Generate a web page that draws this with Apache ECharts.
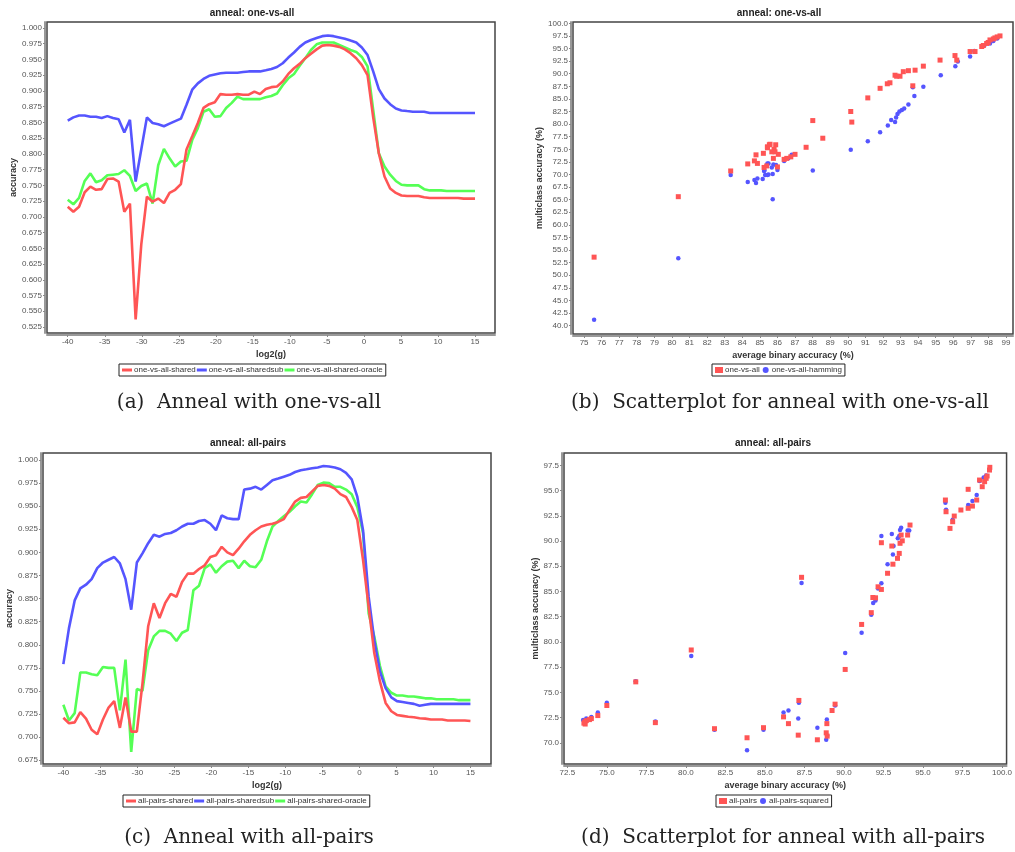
<!DOCTYPE html>
<html>
<head>
<meta charset="utf-8">
<title>anneal</title>
<script src="https://cdn.jsdelivr.net/npm/echarts@6/dist/echarts.min.js"></script>
<style>
  html, body { margin: 0; padding: 0; background: #fff; }
  #main { width: 1015px; height: 852px; }
</style>
</head>
<body>
<div id="main"></div>
<script>
// log2(g) values used by both line charts
const logG = [-40, -39.24, -38.47, -37.71, -36.94, -36.18, -35.42, -34.65, -33.89, -33.13, -32.36, -31.6, -30.83, -30.07, -29.31, -28.54, -27.78, -27.01, -26.25, -25.49, -24.72, -23.96, -23.19, -22.43, -21.67, -20.9, -20.14, -19.38, -18.61, -17.85, -17.08, -16.32, -15.56, -14.79, -14.03, -13.26, -12.5, -11.74, -10.97, -10.21, -9.44, -8.68, -7.92, -7.15, -6.39, -5.63, -4.86, -4.1, -3.33, -2.57, -1.81, -1.04, -0.28, 0.49, 1.25, 2.01, 2.78, 3.54, 4.31, 5.07, 5.83, 6.6, 7.36, 8.13, 8.89, 9.65, 10.42, 11.18, 11.94, 12.71, 13.47, 14.24, 15]

// (a) one-vs-all
const ovaShared = [0.716, 0.708, 0.716, 0.739, 0.748, 0.743, 0.744, 0.760, 0.761, 0.756, 0.708, 0.721, 0.537, 0.656, 0.732, 0.724, 0.729, 0.722, 0.738, 0.743, 0.752, 0.807, 0.828, 0.849, 0.873, 0.879, 0.882, 0.895, 0.894, 0.894, 0.895, 0.894, 0.894, 0.899, 0.895, 0.903, 0.906, 0.907, 0.915, 0.927, 0.936, 0.943, 0.952, 0.959, 0.966, 0.972, 0.973, 0.972, 0.970, 0.966, 0.960, 0.952, 0.941, 0.925, 0.858, 0.801, 0.764, 0.745, 0.738, 0.734, 0.733, 0.733, 0.733, 0.731, 0.730, 0.730, 0.730, 0.730, 0.730, 0.730, 0.729, 0.729, 0.729]
const ovaSharedsub = [0.853, 0.858, 0.861, 0.861, 0.859, 0.859, 0.857, 0.860, 0.857, 0.855, 0.834, 0.854, 0.756, 0.807, 0.858, 0.849, 0.847, 0.844, 0.848, 0.852, 0.856, 0.878, 0.902, 0.912, 0.919, 0.924, 0.926, 0.928, 0.929, 0.929, 0.929, 0.930, 0.931, 0.931, 0.931, 0.933, 0.935, 0.938, 0.944, 0.953, 0.961, 0.970, 0.977, 0.981, 0.984, 0.987, 0.988, 0.987, 0.985, 0.983, 0.980, 0.977, 0.969, 0.957, 0.931, 0.903, 0.888, 0.879, 0.872, 0.869, 0.868, 0.867, 0.867, 0.867, 0.865, 0.865, 0.865, 0.865, 0.865, 0.865, 0.865, 0.865, 0.865]
const ovaOracle = [0.727, 0.720, 0.730, 0.757, 0.769, 0.755, 0.758, 0.766, 0.767, 0.768, 0.774, 0.765, 0.741, 0.749, 0.753, 0.721, 0.782, 0.808, 0.793, 0.780, 0.788, 0.789, 0.822, 0.841, 0.867, 0.871, 0.859, 0.860, 0.873, 0.881, 0.891, 0.887, 0.887, 0.887, 0.887, 0.890, 0.892, 0.896, 0.909, 0.920, 0.927, 0.940, 0.952, 0.965, 0.974, 0.977, 0.977, 0.977, 0.973, 0.969, 0.965, 0.962, 0.954, 0.939, 0.870, 0.801, 0.780, 0.767, 0.757, 0.751, 0.750, 0.750, 0.750, 0.744, 0.742, 0.742, 0.742, 0.741, 0.741, 0.741, 0.741, 0.741, 0.741]

// (c) all-pairs
const apShared = [0.721, 0.715, 0.716, 0.727, 0.720, 0.708, 0.703, 0.719, 0.732, 0.739, 0.710, 0.743, 0.706, 0.706, 0.758, 0.820, 0.845, 0.829, 0.845, 0.855, 0.852, 0.868, 0.877, 0.877, 0.882, 0.886, 0.895, 0.897, 0.906, 0.900, 0.897, 0.904, 0.912, 0.919, 0.924, 0.928, 0.930, 0.931, 0.933, 0.936, 0.946, 0.955, 0.959, 0.960, 0.966, 0.972, 0.973, 0.972, 0.969, 0.963, 0.960, 0.949, 0.935, 0.892, 0.841, 0.791, 0.760, 0.737, 0.728, 0.724, 0.723, 0.722, 0.7215, 0.7205, 0.720, 0.719, 0.719, 0.719, 0.718, 0.718, 0.718, 0.718, 0.7175]
const apSharedsub = [0.779, 0.818, 0.848, 0.861, 0.865, 0.871, 0.883, 0.889, 0.892, 0.895, 0.888, 0.871, 0.838, 0.889, 0.899, 0.910, 0.919, 0.917, 0.920, 0.921, 0.924, 0.928, 0.931, 0.931, 0.934, 0.935, 0.931, 0.924, 0.940, 0.937, 0.936, 0.936, 0.968, 0.969, 0.971, 0.968, 0.973, 0.978, 0.980, 0.982, 0.984, 0.987, 0.989, 0.990, 0.991, 0.992, 0.9935, 0.993, 0.992, 0.990, 0.986, 0.979, 0.960, 0.924, 0.852, 0.805, 0.771, 0.753, 0.743, 0.739, 0.738, 0.737, 0.736, 0.734, 0.735, 0.736, 0.736, 0.736, 0.736, 0.736, 0.736, 0.736, 0.736]
const apOracle = [0.735, 0.718, 0.726, 0.770, 0.770, 0.768, 0.767, 0.776, 0.775, 0.775, 0.729, 0.784, 0.684, 0.752, 0.750, 0.794, 0.809, 0.815, 0.815, 0.812, 0.804, 0.813, 0.816, 0.859, 0.864, 0.883, 0.887, 0.878, 0.885, 0.890, 0.891, 0.883, 0.891, 0.885, 0.884, 0.892, 0.912, 0.928, 0.934, 0.939, 0.944, 0.950, 0.955, 0.954, 0.963, 0.973, 0.9755, 0.975, 0.971, 0.971, 0.968, 0.963, 0.949, 0.921, 0.834, 0.809, 0.777, 0.755, 0.748, 0.745, 0.745, 0.744, 0.744, 0.743, 0.742, 0.742, 0.741, 0.741, 0.741, 0.741, 0.740, 0.740, 0.740]

// (b) [average binary accuracy, multiclass accuracy]
const ovaPoints = [[75.57, 53.6], [80.36, 65.6], [83.34, 70.7], [84.31, 72.1], [84.69, 72.7], [84.78, 73.9], [84.86, 72.2], [85.2, 74.2], [85.43, 75.5], [85.54, 75.9], [85.39, 71.7], [85.24, 71.4], [85.43, 75.3], [85.58, 76.0], [85.9, 75.9], [85.68, 74.5], [85.81, 75.0], [85.86, 74.5], [86.05, 74.0], [85.77, 73.2], [86.0, 71.5], [86.38, 73.0], [86.53, 73.2], [86.76, 73.5], [87.0, 74.0], [87.63, 75.4], [88.58, 77.2], [88.01, 80.7], [90.17, 82.5], [90.23, 80.4], [91.14, 85.2], [91.84, 87.1], [92.25, 88.0], [92.4, 88.2], [92.69, 89.7], [92.78, 89.5], [92.97, 89.5], [93.16, 90.4], [93.45, 90.6], [93.83, 90.7], [94.3, 91.5], [93.7, 87.6], [95.25, 92.7], [96.1, 93.6], [96.2, 92.7], [96.96, 94.4], [97.24, 94.4], [97.62, 95.4], [97.71, 95.6], [97.9, 96.0], [97.99, 96.2], [98.09, 96.7], [98.28, 96.9], [98.37, 97.1], [98.5, 97.3], [98.66, 97.5]]
const hammingPoints = [[75.57, 41.2], [80.36, 53.4], [83.34, 69.9], [84.31, 68.5], [84.69, 68.9], [84.78, 68.3], [84.86, 69.2], [85.16, 69.1], [85.24, 70.7], [85.73, 65.1], [85.3, 69.9], [85.49, 70.0], [85.73, 70.1], [86.0, 70.9], [88.01, 70.8], [85.43, 72.2], [85.26, 70.8], [85.49, 72.2], [85.43, 69.9], [85.77, 72.0], [85.92, 71.9], [85.68, 71.4], [86.38, 72.7], [86.62, 73.2], [86.81, 73.9], [90.17, 74.9], [91.14, 76.6], [91.84, 78.4], [92.28, 79.7], [92.47, 80.8], [92.69, 80.4], [92.75, 81.3], [92.83, 82.0], [92.94, 82.5], [93.08, 82.8], [93.21, 83.1], [93.45, 83.9], [93.79, 85.6], [94.3, 87.4], [93.7, 87.3], [95.29, 89.7], [96.12, 91.5], [96.26, 92.4], [96.96, 93.4], [97.2, 94.5], [97.77, 95.6], [98.09, 96.0], [98.28, 96.5], [98.5, 97.0]]

// (d)
const apPoints = [[73.6, 72.08], [73.63, 71.86], [73.7, 72.2], [73.55, 71.95], [74.02, 72.4], [73.9, 72.3], [74.43, 72.7], [75.0, 73.7], [76.83, 76.04], [78.07, 72.0], [80.34, 79.2], [81.81, 71.4], [83.87, 70.5], [84.91, 71.5], [86.18, 72.57], [86.49, 71.9], [87.15, 74.2], [87.11, 70.76], [87.32, 86.4], [88.32, 70.3], [88.88, 70.99], [88.92, 71.9], [88.94, 70.66], [89.25, 73.2], [89.44, 73.83], [90.08, 77.27], [91.12, 81.73], [91.73, 82.9], [91.83, 84.4], [92.0, 84.37], [92.16, 85.46], [92.37, 85.2], [92.76, 86.8], [92.37, 89.83], [93.03, 89.5], [93.1, 87.7], [93.39, 88.28], [93.5, 88.77], [93.55, 89.77], [93.62, 90.59], [93.69, 90.02], [94.03, 90.59], [94.18, 91.58], [96.42, 94.06], [96.46, 92.9], [96.71, 91.25], [96.88, 91.91], [96.98, 92.47], [97.4, 93.07], [97.86, 95.12], [97.86, 93.24], [98.13, 93.46], [98.4, 94.06], [98.58, 96.04], [98.75, 95.38], [98.9, 95.88], [99.0, 96.21], [99.06, 96.44], [99.21, 97.03], [99.23, 97.3]]
const apSquaredPoints = [[73.5, 72.25], [73.6, 72.1], [73.7, 72.4], [74.02, 72.57], [74.43, 73.0], [75.0, 73.96], [76.83, 76.1], [78.07, 72.1], [80.34, 78.6], [81.81, 71.3], [83.87, 69.27], [84.91, 71.3], [86.18, 73.0], [86.49, 73.2], [87.11, 72.4], [87.15, 73.98], [87.32, 85.83], [88.32, 71.5], [88.88, 70.3], [88.92, 72.3], [88.94, 70.7], [89.44, 73.7], [90.08, 78.9], [91.12, 80.9], [91.73, 82.7], [91.85, 83.85], [92.0, 84.1], [92.16, 85.3], [92.37, 85.8], [92.37, 90.5], [92.76, 87.7], [93.03, 90.7], [93.1, 88.66], [93.14, 89.5], [93.41, 90.27], [93.5, 90.5], [93.55, 91.1], [93.62, 91.3], [94.03, 91.04], [94.13, 91.04], [96.42, 93.8], [96.46, 93.1], [96.88, 92.1], [97.86, 93.57], [98.13, 93.96], [98.4, 94.56], [98.58, 95.94], [98.84, 96.3], [99.0, 96.5]]

// tick labels
const logTicks = [-40, -35, -30, -25, -20, -15, -10, -5, 0, 5, 10, 15]
const accTicksA = [0.525, 0.55, 0.575, 0.6, 0.625, 0.65, 0.675, 0.7, 0.725, 0.75, 0.775, 0.8, 0.825, 0.85, 0.875, 0.9, 0.925, 0.95, 0.975, 1.0]
const accTicksC = [0.675, 0.7, 0.725, 0.75, 0.775, 0.8, 0.825, 0.85, 0.875, 0.9, 0.925, 0.95, 0.975, 1.0]
const binTicksB = [75, 76, 77, 78, 79, 80, 81, 82, 83, 84, 85, 86, 87, 88, 89, 90, 91, 92, 93, 94, 95, 96, 97, 98, 99]
const multiTicksB = [40, 42.5, 45, 47.5, 50, 52.5, 55, 57.5, 60, 62.5, 65, 67.5, 70, 72.5, 75, 77.5, 80, 82.5, 85, 87.5, 90, 92.5, 95, 97.5, 100]
const binTicksD = [72.5, 75, 77.5, 80, 82.5, 85, 87.5, 90, 92.5, 95, 97.5, 100]
const multiTicksD = [70, 72.5, 75, 77.5, 80, 82.5, 85, 87.5, 90, 92.5, 95, 97.5]

const FONT = '"Liberation Sans", Arial, sans-serif'
const RED = '#ff5555'
const BLUE = '#5555ff'
const GREEN = '#55ff55'

const pairs = (xs, ys) => xs.map((x, i) => [x, ys[i]])

function axis(gridIndex, min, max, ticks, digits, name, nameGap) {
    return {
        type: 'value',
        gridIndex: gridIndex,
        min: min,
        max: max,
        offset: 2,
        name: name,
        nameLocation: 'middle',
        nameGap: nameGap,
        nameTextStyle: { fontFamily: FONT, fontSize: 9, fontWeight: 'bold', color: '#333' },
        axisLine: { show: true, onZero: false, lineStyle: { color: '#999', width: 2 } },
        axisTick: { show: true, length: 2, customValues: ticks, lineStyle: { color: '#888' } },
        axisLabel: {
            customValues: ticks,
            fontFamily: FONT,
            fontSize: 8,
            color: '#555',
            margin: 3,
            formatter: v => v.toFixed(digits)
        },
        splitLine: { show: false }
    }
}

function line(name, color, ys, idx) {
    return {
        name: name,
        type: 'line',
        xAxisIndex: idx,
        yAxisIndex: idx,
        data: pairs(logG, ys),
        symbol: 'none',
        lineStyle: { color: color, width: 2.6 },
        itemStyle: { color: color }
    }
}

function dots(name, color, pts, idx, symbol, size) {
    return {
        name: name,
        type: 'scatter',
        xAxisIndex: idx,
        yAxisIndex: idx,
        data: pts,
        symbol: symbol,
        symbolSize: size,
        itemStyle: { color: color, opacity: 1 }
    }
}

function legend(names, left, top, icons, w, h, gap) {
    return {
        data: names.map((n, i) => ({ name: n, icon: icons[i] })),
        left: left,
        top: top,
        orient: 'horizontal',
        itemWidth: w,
        itemHeight: h,
        itemGap: gap,
        padding: [2, 3],
        borderColor: '#222',
        borderWidth: 1,
        backgroundColor: '#fff',
        textStyle: { fontFamily: FONT, fontSize: 8, color: '#333', padding: [0, 0, 0, -3] },
        selectedMode: false
    }
}

function text(str, x, y, font) {
    return {
        type: 'text',
        x: x,
        y: y,
        style: { text: str, font: font, fill: '#222', align: 'center', verticalAlign: 'middle' }
    }
}

const gridStyle = { show: true, borderColor: '#444', borderWidth: 1.5, backgroundColor: '#fff' }
const TITLE_FONT = 'bold 10px "Liberation Sans", Arial, sans-serif'
const CAP_FONT = '20px "DejaVu Serif", serif'

let chart = echarts.init(document.getElementById('main'))
let option = {
    animation: false,
    backgroundColor: '#fff',
    grid: [
        Object.assign({ left: 47, top: 22, width: 448, height: 311 }, gridStyle),
        Object.assign({ left: 573, top: 22, width: 440, height: 312 }, gridStyle),
        Object.assign({ left: 43, top: 453, width: 448, height: 311 }, gridStyle),
        Object.assign({ left: 564, top: 453, width: 449, height: 311 }, gridStyle)
    ],
    xAxis: [
        axis(0, -42.8, 17.7, logTicks, 0, 'log2(g)', 15),
        axis(1, 74.37, 99.4, binTicksB, 0, 'average binary accuracy (%)', 15),
        axis(2, -42.75, 17.78, logTicks, 0, 'log2(g)', 15),
        axis(3, 72.29, 100.29, binTicksD, 1, 'average binary accuracy (%)', 15)
    ],
    yAxis: [
        axis(0, 0.5155, 1.0095, accTicksA, 3, 'accuracy', 27),
        axis(1, 38.35, 100.26, multiTicksB, 1, 'multiclass accuracy (%)', 22),
        axis(2, 0.6709, 1.0076, accTicksC, 3, 'accuracy', 27),
        axis(3, 67.9, 98.72, multiTicksD, 1, 'multiclass accuracy (%)', 19)
    ],
    legend: [
        legend(['one-vs-all-shared', 'one-vs-all-sharedsub', 'one-vs-all-shared-oracle'], 119, 364, ['rect', 'rect', 'rect'], 10, 3, 1),
        legend(['one-vs-all', 'one-vs-all-hamming'], 712, 364, ['rect', 'circle'], 8, 6, 3),
        legend(['all-pairs-shared', 'all-pairs-sharedsub', 'all-pairs-shared-oracle'], 123, 795, ['rect', 'rect', 'rect'], 10, 3, 1),
        legend(['all-pairs', 'all-pairs-squared'], 716, 795, ['rect', 'circle'], 8, 6, 3)
    ],
    // series 0 of each plot is drawn last, so it sits on top
    series: [
        line('one-vs-all-shared-oracle', GREEN, ovaOracle, 0),
        line('one-vs-all-sharedsub', BLUE, ovaSharedsub, 0),
        line('one-vs-all-shared', RED, ovaShared, 0),
        dots('one-vs-all-hamming', BLUE, hammingPoints, 1, 'circle', 4.5),
        dots('one-vs-all', RED, ovaPoints, 1, 'rect', 5),
        line('all-pairs-shared-oracle', GREEN, apOracle, 2),
        line('all-pairs-sharedsub', BLUE, apSharedsub, 2),
        line('all-pairs-shared', RED, apShared, 2),
        dots('all-pairs-squared', BLUE, apSquaredPoints, 3, 'circle', 4.5),
        dots('all-pairs', RED, apPoints, 3, 'rect', 5)
    ],
    graphic: [
        text('anneal: one-vs-all', 252, 13, TITLE_FONT),
        text('anneal: one-vs-all', 779, 13, TITLE_FONT),
        text('anneal: all-pairs', 248, 443, TITLE_FONT),
        text('anneal: all-pairs', 773, 443, TITLE_FONT),
        text('(a)  Anneal with one-vs-all', 249, 403, CAP_FONT),
        text('(b)  Scatterplot for anneal with one-vs-all', 780, 403, CAP_FONT),
        text('(c)  Anneal with all-pairs', 249, 838, CAP_FONT),
        text('(d)  Scatterplot for anneal with all-pairs', 783, 838, CAP_FONT)
    ]
}
chart.setOption(option)
window.addEventListener('resize', () => {
    chart.resize()
})
</script>
</body>
</html>
